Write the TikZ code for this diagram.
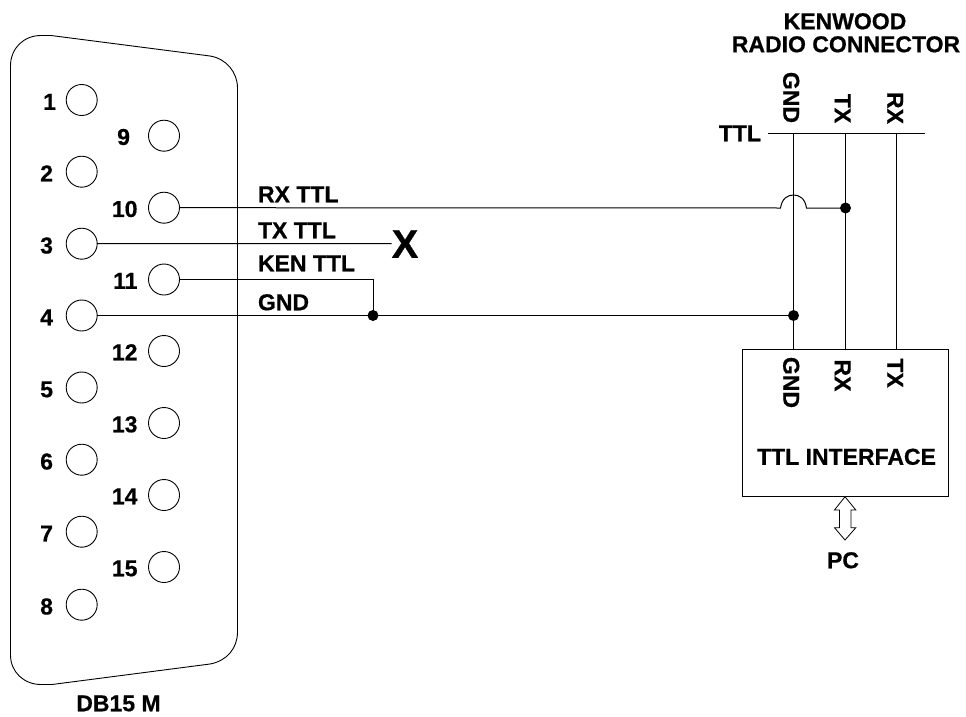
\documentclass[tikz,border=0pt]{standalone}
\usepackage{fontspec}
\setmainfont[BoldFeatures={FakeBold=0.6}]{Liberation Sans}
\usetikzlibrary{calc}
\tikzset{
  x=1pt,y=-1pt,
  wire/.style={line width=1pt,line join=miter},
  pin/.style={circle,draw,line width=0.9pt,minimum size=31pt,inner sep=0pt,outer sep=0pt},
  lbl/.style={font=\fontsize{23}{23}\selectfont\bfseries,inner sep=0pt,outer sep=0pt,text height=16.5pt,text depth=0pt},
  num/.style={lbl,anchor=east},
  wlabel/.style={lbl,anchor=west},
  vlbl/.style={lbl,rotate=-90},
  dot/.style={circle,fill=black,minimum size=11pt,inner sep=0pt,outer sep=0pt},
}
\begin{document}
\begin{tikzpicture}
\useasboundingbox (0,0) rectangle (966,717);
% shell
\draw[line width=0.9pt] (10.5,66) .. controls (10.5,48) and (24,35.5) .. (41,35.5) -- (51,35.5)
  -- (210,56) .. controls (226,58.5) and (237.5,72) .. (237.5,88) -- (237.5,632)
  .. controls (237.5,648) and (227,661) .. (210,664) -- (52,684.5) -- (41,684.5)
  .. controls (24,684.5) and (10.5,672) .. (10.5,655) -- cycle;
% pins
\foreach \n/\y in {1/100,2/171.7,3/243.7,4/315.5,5/387.5,6/459.7,7/531.7,8/604.7}
  {\node[pin] (p\n) at (81.7,\y) {};
   \ifnum\n=1 \node[num] (n\n) at (56,\y+1.5) {\n};\else\node[num] (n\n) at (53,\y+1.5) {\n};\fi}
\foreach \n/\y in {9/135.7,10/207.7,11/279.5,12/351,13/423,14/495,15/567}
  {\node[pin] (p\n) at (164,\y) {};
   \ifnum\n=9 \node[num] (n\n) at (130,\y+1) {\n};\else\node[num] (n\n) at (137.5,\y+1) {\n};\fi}
\node[lbl] (db) at (118.5,703) {DB15 M};
% radio connector
\node[lbl] (k1) at (845,21) {KENWOOD};
\node[lbl] (k2) at (846,44) {RADIO CONNECTOR};
\node[lbl,anchor=east] (ttl) at (761,133) {TTL};
\coordinate (railL) at (768,133);
\coordinate (railR) at (925,133);
\draw[wire] (railL) -- (railR);
\node[vlbl] (g1) at (791.5,97.5) {GND};
\node[vlbl] (t1) at (843,108.5) {TX};
\node[vlbl] (r1) at (895.5,108) {RX};
\coordinate (a1) at (793.5,133);
\coordinate (a2) at (845.5,133);
\coordinate (a3) at (896.5,133);
% interface
\node[draw,line width=1pt,minimum width=206.5pt,minimum height=146.5pt,inner sep=0pt,outer sep=0pt] (box) at (845.25,422.75) {};
\coordinate (b1) at (793.5,349.5);
\coordinate (b2) at (845.5,349.5);
\coordinate (b3) at (896.5,349.5);
\draw[wire] (a1) -- (b1);
\draw[wire] (a2) -- (b2);
\draw[wire] (a3) -- (b3);
\node[vlbl] (g2) at (791.5,382.5) {GND};
\node[vlbl] (r2) at (843,375.5) {RX};
\node[vlbl] (t2) at (895.5,373) {TX};
\node[lbl] (ti) at (846.5,456.5) {TTL INTERFACE};
% wires
\node[dot] (d1) at (845.5,208) {};
\node[dot] (d2) at (793.5,315.5) {};
\node[dot] (d3) at (373,315.5) {};
\node[lbl,font=\fontsize{40}{40}\selectfont\bfseries,text height=28.6pt] (x) at (405,243.5) {X};
\coordinate (j1) at (780.5,208);
\coordinate (j2) at (806.5,208);
\draw[wire] (p10.east) -- (j1) .. controls (782,198) and (788,195) .. (793.5,195) .. controls (799,195) and (805,198) .. (j2) -- (d1.center);
\draw[wire] (p3.east) -- (x.west);
\draw[wire] (p11.east) -| (d3.center);
\draw[wire] (p4.east) -- (d2.center);
\node[wlabel] (l1) at (258,194) {RX TTL};
\node[wlabel] (l2) at (258,230) {TX TTL};
\node[wlabel] (l3) at (258,263) {KEN TTL};
\node[wlabel] (l4) at (258,302) {GND};
% PC arrow
\node[lbl] (pc) at (843,560) {PC};
\draw[line width=0.8pt,fill=white] (845,496.7) -- (834.5,510) -- (839.5,510) -- (839.5,527.7) -- (834.5,527.7)
  -- (845,540) -- (855.8,527.7) -- (851,527.7) -- (851,510) -- (855.8,510) -- cycle;
\end{tikzpicture}
\end{document}
